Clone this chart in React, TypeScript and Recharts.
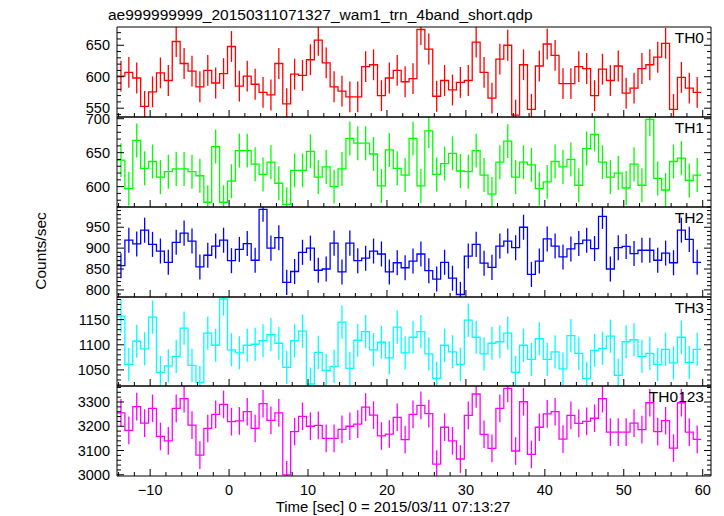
import React from "react";
import { ComposedChart, Line, Scatter, ErrorBar, XAxis, YAxis } from "recharts";

const TITLE = "ae999999999_20150311071327_wam1_trn_4band_short.qdp";
const X_LABEL = "Time [sec] 0 = 2015/03/11 07:13:27";
const Y_LABEL = "Counts/sec";

// 1 s bins, left edge of the first bin
const BIN_START = -14.2;
const BIN_WIDTH = 1;

// count rates per bin
const th0 = [
  601, 607, 598, 553, 576, 606, 594, 656, 621, 609, 584, 610, 590, 605, 648, 585, 601, 588, 575, 571,
  621, 557, 604, 602, 627, 658, 622, 584, 577, 568, 568, 616, 619, 570, 598, 610, 592, 597, 675, 644,
  569, 594, 579, 591, 594, 655, 607, 566, 628, 650, 539, 619, 548, 617, 652, 634, 589, 589, 616, 613,
  570, 612, 594, 617, 574, 582, 613, 619, 631, 653, 548, 599, 582, 575,
];
const th1 = [
  639, 597, 668, 627, 637, 614, 622, 626, 626, 622, 616, 577, 659, 577, 608, 653, 653, 633, 618, 636,
  605, 574, 624, 624, 652, 614, 629, 600, 626, 671, 664, 664, 648, 601, 654, 627, 617, 671, 601, 682,
  618, 634, 649, 623, 622, 653, 617, 589, 636, 667, 614, 636, 632, 597, 607, 637, 629, 640, 602, 656,
  677, 636, 614, 620, 598, 633, 602, 699, 612, 595, 637, 642, 609, 617,
];
const th2 = [
  858, 919, 910, 943, 909, 893, 866, 914, 936, 917, 855, 883, 905, 919, 870, 897, 911, 871, 993, 900,
  925, 818, 844, 890, 900, 847, 850, 912, 843, 912, 870, 876, 893, 886, 843, 865, 853, 869, 886, 846,
  826, 866, 828, 789, 881, 909, 864, 854, 905, 917, 901, 950, 837, 869, 922, 905, 879, 898, 911, 919,
  899, 976, 850, 901, 904, 887, 895, 895, 871, 888, 865, 943, 921, 866,
];
const th3 = [
  1157, 1061, 1107, 1092, 1155, 1045, 1058, 1077, 1133, 1059, 1025, 1123, 1099, 1191, 1090, 1084, 1099, 1101, 1108, 1120,
  1103, 1055, 1108, 1127, 1022, 1085, 1049, 1057, 1145, 1053, 1109, 1126, 1090, 1105, 1074, 1135, 1084, 1115, 1126, 1082,
  1033, 1099, 1086, 1061, 1149, 1115, 1082, 1103, 1106, 1123, 1045, 1099, 1071, 1112, 1071, 1086, 1052, 1118, 1083, 1033,
  1089, 1093, 1117, 1039, 1106, 1110, 1077, 1083, 1061, 1091, 1064, 1115, 1065, 1091,
];
const th0123 = [
  3255, 3183, 3281, 3213, 3274, 3158, 3140, 3274, 3314, 3205, 3081, 3191, 3249, 3290, 3219, 3222, 3260, 3191, 3293, 3224,
  3255, 3000, 3178, 3241, 3200, 3204, 3150, 3150, 3187, 3200, 3209, 3279, 3246, 3160, 3168, 3237, 3145, 3249, 3286, 3252,
  3044, 3196, 3140, 3065, 3245, 3333, 3167, 3109, 3274, 3356, 3098, 3301, 3084, 3196, 3251, 3260, 3147, 3245, 3212, 3220,
  3233, 3314, 3176, 3176, 3176, 3213, 3186, 3297, 3178, 3223, 3110, 3297, 3176, 3146,
];

// typical 1-sigma error per band
const errors = [24.5, 25, 30, 33, 57];

const X_DOMAIN = [-14.2, 61.05];
const X_MAJOR = [-10, 0, 10, 20, 30, 40, 50, 60];
const X_TICKS = Array.from({ length: 38 }, (_, i) => -14 + i * 2);

const W = 724;
const H = 516;
const PLOT_LEFT = 117;
const PLOT_RIGHT = 711;
const PANEL_EDGES = [27, 117, 207, 297, 386, 476];
const FONT = "'Liberation Sans', Arial, Helvetica, sans-serif";

const bands = [
  { name: "TH0", color: "#ff0000", values: th0, domain: [536, 679], major: [550, 600, 650], minor: 10 },
  { name: "TH1", color: "#00ff00", values: th1, domain: [570, 702.5], major: [600, 650, 700], minor: 10 },
  { name: "TH2", color: "#0000ff", values: th2, domain: [783, 998.5], major: [800, 850, 900, 950], minor: 10 },
  { name: "TH3", color: "#00ffff", values: th3, domain: [1018, 1195], major: [1050, 1100, 1150], minor: 10 },
  { name: "TH0123", color: "#ff00ff", values: th0123, domain: [2995, 3366], major: [3000, 3100, 3200, 3300], minor: 20 },
];

const minorTicks = (domain: number[], step: number) => {
  const out: number[] = [];
  for (let v = Math.ceil(domain[0] / step) * step; v <= domain[1]; v += step) out.push(v);
  return out;
};

const fmt = (v: number) => String(v).replace("-", "\u2212");

const makeYTick = (side: "left" | "right", majors: number[]) => (props: any) => {
  const { x, y, payload } = props;
  const isMajor = majors.includes(payload.value);
  const dir = side === "left" ? 1 : -1;
  return (
    <g>
      <line x1={x} x2={x + dir * (isMajor ? 7 : 4)} y1={y} y2={y} stroke="#000" strokeWidth={1} />
      {side === "left" && isMajor && (
        <text x={x - 7} y={y + 5} textAnchor="end" fontSize={14.5} fontFamily={FONT} fill="#000">
          {payload.value}
        </text>
      )}
    </g>
  );
};

const makeXTick = (side: "top" | "bottom", labels: boolean) => (props: any) => {
  const { x, y, payload } = props;
  const isMajor = X_MAJOR.includes(payload.value);
  const dir = side === "bottom" ? -1 : 1;
  return (
    <g>
      <line x1={x} x2={x} y1={y} y2={y + dir * (isMajor ? 7 : 4)} stroke="#000" strokeWidth={1} />
      {labels && isMajor && (
        <text x={x} y={y + 19} textAnchor="middle" fontSize={14.5} fontFamily={FONT} fill="#000">
          {fmt(payload.value)}
        </text>
      )}
    </g>
  );
};

const noShape = () => <g />;

function Panel({ band, index, withData }: { band: (typeof bands)[number]; index: number; withData: boolean }) {
  const top = PANEL_EDGES[index];
  const bottom = PANEL_EDGES[index + 1];
  const last = index === bands.length - 1;
  const steps = band.values.map((v, i) => ({ t: BIN_START + i * BIN_WIDTH, v }));
  steps.push({ t: BIN_START + band.values.length * BIN_WIDTH, v: band.values[band.values.length - 1] });
  const points = band.values.map((v, i) => ({ t: BIN_START + (i + 0.5) * BIN_WIDTH, v, e: errors[index] }));
  const yTicks = minorTicks(band.domain, band.minor);
  // data layer: axes invisible, the div clips the marks to the panel box
  const axisCommon = {
    type: "number" as const,
    allowDataOverflow: true,
    interval: 0,
    tickSize: 0,
    tickMargin: 0,
    tickLine: false,
    axisLine: withData ? false : { stroke: "#000", strokeWidth: 1 },
  };
  const clip = withData
    ? `inset(${top}px ${W - PLOT_RIGHT}px ${H - bottom}px ${PLOT_LEFT}px)`
    : undefined;

  // axes are 1px thick; margins leave room for them so the plot box lands on the panel edges
  return (
    <div style={{ position: "absolute", left: 0, top: 0, width: W, height: H, clipPath: clip }}>
      <ComposedChart
        width={W}
        height={H}
        margin={{ top: top - 1, bottom: H - bottom - 1, left: PLOT_LEFT - 1, right: W - PLOT_RIGHT - 1 }}
      >
        <XAxis
          {...axisCommon}
          xAxisId="b"
          dataKey="t"
          orientation="bottom"
          domain={X_DOMAIN}
          ticks={X_TICKS}
          height={1}
          tick={withData ? false : makeXTick("bottom", last)}
        />
        <XAxis
          {...axisCommon}
          xAxisId="top"
          orientation="top"
          domain={X_DOMAIN}
          ticks={X_TICKS}
          height={1}
          tick={withData ? false : makeXTick("top", false)}
        />
        <YAxis
          {...axisCommon}
          yAxisId="l"
          orientation="left"
          domain={band.domain}
          ticks={yTicks}
          width={1}
          tick={withData ? false : makeYTick("left", band.major)}
        />
        <YAxis
          {...axisCommon}
          yAxisId="r"
          orientation="right"
          domain={band.domain}
          ticks={yTicks}
          width={1}
          tick={withData ? false : makeYTick("right", band.major)}
        />
        {withData && (
          <Line
            data={steps}
            dataKey="v"
            type="stepAfter"
            xAxisId="b"
            yAxisId="l"
            stroke={band.color}
            strokeWidth={1.3}
            dot={false}
            activeDot={false}
            isAnimationActive={false}
          />
        )}
        {withData && (
          <Scatter data={points} dataKey="v" xAxisId="b" yAxisId="l" shape={noShape} isAnimationActive={false}>
            <ErrorBar
              dataKey="e"
              direction="y"
              width={0}
              stroke={band.color}
              strokeWidth={1.3}
              isAnimationActive={false}
            />
          </Scatter>
        )}
      </ComposedChart>
    </div>
  );
}

export default function App() {
  return (
    <div style={{ position: "absolute", left: 0, top: 0, width: W, height: H, background: "#fff" }}>
      {bands.map((b, i) => (
        <Panel key={b.name + "-data"} band={b} index={i} withData />
      ))}
      {bands.map((b, i) => (
        <Panel key={b.name + "-axes"} band={b} index={i} withData={false} />
      ))}
      <svg width={W} height={H} style={{ position: "absolute", left: 0, top: 0, pointerEvents: "none" }}>
        <text x={108} y={20} fontSize={15.5} fontFamily={FONT} fill="#000">
          {TITLE}
        </text>
        <text
          x={46}
          y={251}
          transform="rotate(-90 46 251)"
          textAnchor="middle"
          fontSize={15.5}
          fontFamily={FONT}
          fill="#000"
        >
          {Y_LABEL}
        </text>
        <text x={393} y={512} textAnchor="middle" fontSize={15} fontFamily={FONT} fill="#000">
          {X_LABEL}
        </text>
        {bands.map((b, i) => (
          <text
            key={b.name}
            x={704}
            y={PANEL_EDGES[i] + 16}
            textAnchor="end"
            fontSize={15.5}
            fontFamily={FONT}
            fill="#000"
          >
            {b.name}
          </text>
        ))}
      </svg>
    </div>
  );
}
